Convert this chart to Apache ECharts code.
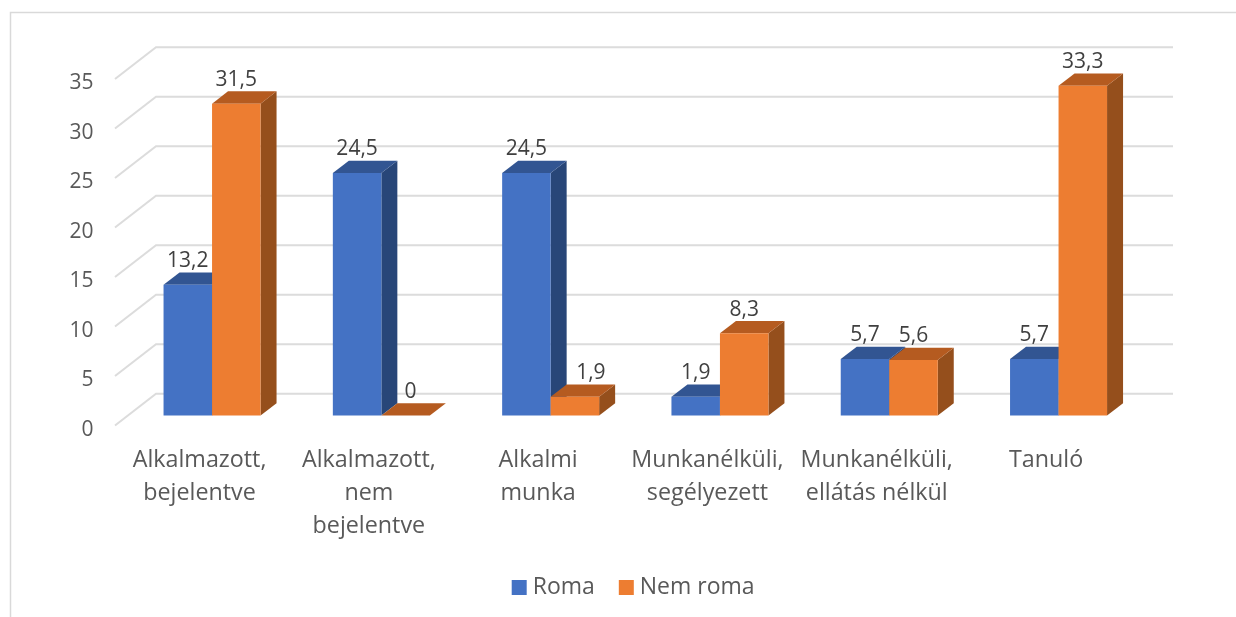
<!DOCTYPE html>
<html>
<head>
<meta charset="utf-8">
<title>Roma / Nem roma</title>
<script src="https://cdn.jsdelivr.net/npm/echarts@6/dist/echarts.min.js"></script>
<style>
  html, body { margin: 0; padding: 0; background: #fff; }
  #chart { width: 1236px; height: 617px; }
</style>
</head>
<body>
<div id="chart"></div>
<script>
const categories = ['Alkalmazott,\nbejelentve', 'Alkalmazott,\nnem\nbejelentve', 'Alkalmi\nmunka', 'Munkanélküli,\nsegélyezett', 'Munkanélküli,\nellátás nélkül', 'Tanuló'];
const roma = [13.2, 24.5, 24.5, 1.9, 5.7, 5.7];
const nemRoma = [31.5, 0, 1.9, 8.3, 5.6, 33.3];
const ticks = [0, 5, 10, 15, 20, 25, 30, 35];

const FONT = '"Open Sans", sans-serif';
const DEPTH_X = 16, DEPTH_Y = 12.3;
const BAR_RATIO = 0.2865;

// labels excel pushed sideways to keep them off the neighbouring bar
const labelNudge = { 'Nem roma': { 1: 5, 2: 16 } };

const bar3d = (name, front, side, top, dir) => (params, api) => {
  const i = api.value(0), v = api.value(1);
  const [cx, y1] = api.coord([i, v]);
  const y0 = api.coord([i, 0])[1];
  const w = api.size([1, 0])[0] * BAR_RATIO;
  const x0 = dir < 0 ? cx - w : cx, x1 = x0 + w;
  const nudge = (labelNudge[name] || {})[i] || 0;
  const poly = (points, fill) => ({ type: 'polygon', shape: { points }, style: { fill } });
  return {
    type: 'group',
    children: [
      poly([[x1, y1], [x1 + DEPTH_X, y1 - DEPTH_Y], [x1 + DEPTH_X, y0 - DEPTH_Y], [x1, y0]], side),
      poly([[x0, y1], [x0 + DEPTH_X, y1 - DEPTH_Y], [x1 + DEPTH_X, y1 - DEPTH_Y], [x1, y1]], top),
      { type: 'rect', shape: { x: x0, y: y1, width: w, height: y0 - y1 }, style: { fill: front } },
      {
        type: 'text', x: (x0 + x1) / 2 + nudge, y: y1 - DEPTH_Y - 11.5,
        style: { text: String(v).replace('.', ','), font: '21px ' + FONT, fill: '#404040', align: 'center', verticalAlign: 'middle' }
      }
    ]
  };
};

// back wall lines: the slanted piece on the left, then along the wall
const wallLine = (params, api) => {
  const y = api.coord([0, api.value(0)])[1];
  const left = params.coordSys.x;
  return {
    type: 'polyline',
    shape: { points: [[left - 12.4, y + 10], [left + 28.6, y - 21.8], [left + 1045.6, y - 21.8]] },
    style: { stroke: '#dcdcdc', lineWidth: 2, fill: null }
  };
};

const chart = echarts.init(document.getElementById('chart'), null, { renderer: 'canvas' });
chart.setOption({
  animation: false,
  backgroundColor: '#fff',
  textStyle: { fontFamily: FONT },
  grid: { left: 127.4, width: 1015.8, top: 69, height: 346.5 },
  xAxis: {
    type: 'category', data: categories,
    axisLine: { show: false }, axisTick: { show: false },
    axisLabel: { interval: 0, margin: 28, color: '#595959', fontFamily: FONT, fontSize: 23.3, lineHeight: 33, padding: [0, 25, 0, 0] }
  },
  yAxis: {
    type: 'value', min: 0, max: 35, interval: 5,
    splitLine: { show: false }, axisLine: { show: false }, axisTick: { show: false },
    axisLabel: { margin: 34, color: '#595959', fontFamily: FONT, fontSize: 21, verticalAlign: 'top', padding: [4, 0, 0, 0] }
  },
  legend: {
    left: 506.7, top: 571, itemWidth: 15, itemHeight: 15, itemGap: 24,
    textStyle: { color: '#595959', fontFamily: FONT, fontSize: 23, padding: [0, 0, 0, 1] },
    data: [
      { name: 'Roma', icon: 'rect', itemStyle: { color: '#4472C4' } },
      { name: 'Nem roma', icon: 'rect', itemStyle: { color: '#ED7D31' } }
    ]
  },
  graphic: [{
    type: 'polyline', silent: true,
    shape: { points: [[10.5, 617], [10.5, 12.5], [1236, 12.5]] },
    style: { stroke: '#d9d9d9', lineWidth: 1.5, fill: null }
  }],
  series: [
    { type: 'custom', name: 'wall', clip: false, renderItem: wallLine, encode: { y: 0 }, data: ticks.map(t => [t]), silent: true },
    {
      type: 'custom', name: 'Roma', clip: false, itemStyle: { color: '#4472C4' },
      renderItem: bar3d('Roma', '#4472C4', '#284678', '#325592', -1),
      encode: { x: 0, y: 1 }, data: roma.map((v, i) => [i, v])
    },
    {
      type: 'custom', name: 'Nem roma', clip: false, itemStyle: { color: '#ED7D31' },
      renderItem: bar3d('Nem roma', '#ED7D31', '#954F1C', '#B55B20', 1),
      encode: { x: 0, y: 1 }, data: nemRoma.map((v, i) => [i, v])
    }
  ]
});
window.addEventListener('resize', () => chart.resize());
</script>
</body>
</html>
